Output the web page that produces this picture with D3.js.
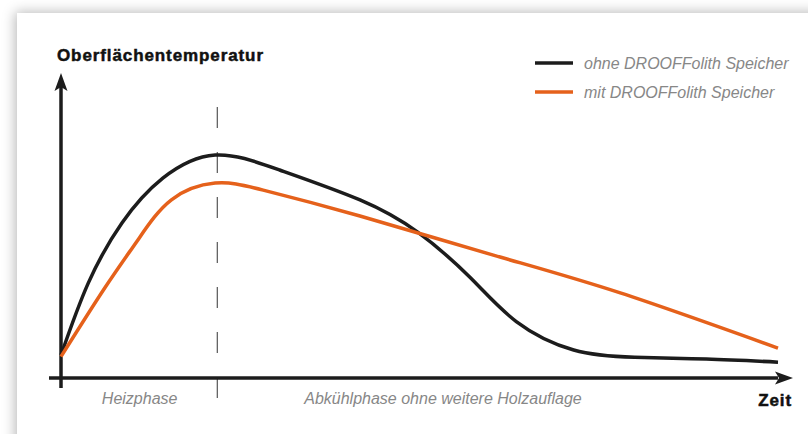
<!DOCTYPE html>
<html>
<head>
<meta charset="utf-8">
<script src="https://cdn.jsdelivr.net/npm/d3@7"></script>
<style>
  body { margin: 0; background: #fff; overflow: hidden; }
  #wrap { position: relative; width: 808px; height: 434px; overflow: hidden; }
  #card { position: absolute; left: 17px; top: 13px; width: 840px; height: 460px;
          background: #fff; box-shadow: -2px -1px 12px rgba(0,0,0,0.28); }
  svg { position: absolute; left: 0; top: 0; }
</style>
</head>
<body>
<div id="wrap"><div id="card"></div><div id="chart"></div></div>
<script>
// time (0 = start, 100 = end of the curves) and surface temperature (0..100 arbitrary units)
const timeOhne = [0, 3.8, 8.5, 14.2, 21.5, 30.5, 41.7, 49.7, 57.0, 63.5, 71.5, 80.0, 90.0, 100];
const tempOhne = [7.5, 31.1, 50.8, 65.5, 73.1, 68.2, 58.4, 47.9, 33.1, 18.5, 9.2, 6.8, 6.2, 5.2];

const timeMit = [0, 6.1, 10.7, 15.4, 21.5, 28.2, 41.7, 60.3, 78.0, 100];
const tempMit = [7.0, 29.5, 45.2, 58.4, 63.9, 61.6, 53.1, 40.3, 27.9, 9.8];

const heizEnde = 21.8;
const seriesNames = ["ohne DROOFFolith Speicher", "mit DROOFFolith Speicher"];
const seriesColors = ["#1c1c1c", "#e5611b"];
const phaseLabels = ["Heizphase", "Abkühlphase ohne weitere Holzauflage"];
const yTitle = "Oberflächentemperatur";
const xTitle = "Zeit";

const width = 808, height = 434;

const x = d3.scaleLinear().domain([0, 100]).range([61, 778]);
const y = d3.scaleLinear().domain([0, 100]).range([378, 73]);

const svg = d3.select('#chart').append('svg')
  .attr('width', width)
  .attr('height', height);

// dashed separator between the phases
svg.append('line')
  .attr('x1', x(heizEnde)).attr('x2', x(heizEnde))
  .attr('y1', 107).attr('y2', 400)
  .attr('stroke', '#555')
  .attr('stroke-width', 1.2)
  .attr('stroke-dasharray', '21 24');

// axes with arrow heads
const axisColor = '#1c1c1c';
svg.append('line')
  .attr('x1', 49).attr('x2', 778)
  .attr('y1', y(0)).attr('y2', y(0))
  .attr('stroke', axisColor).attr('stroke-width', 3.5);
svg.append('path')
  .attr('d', `M${775},${y(0) - 6.5} L${793},${y(0)} L${775},${y(0) + 6.5} L${779},${y(0)} Z`)
  .attr('fill', axisColor);

svg.append('line')
  .attr('x1', x(0)).attr('x2', x(0))
  .attr('y1', 388).attr('y2', 86)
  .attr('stroke', axisColor).attr('stroke-width', 3.5);
svg.append('path')
  .attr('d', `M${x(0) - 6.5},${91} L${x(0)},${73} L${x(0) + 6.5},${91} L${x(0)},${87} Z`)
  .attr('fill', axisColor);

// curves
const line = d3.line()
  .x(d => x(d[0]))
  .y(d => y(d[1]))
  .curve(d3.curveNatural);

const ohne = timeOhne.map((t, i) => [t, tempOhne[i]]);
const mit = timeMit.map((t, i) => [t, tempMit[i]]);

svg.append('path')
  .datum(ohne)
  .attr('d', line)
  .attr('fill', 'none')
  .attr('stroke', seriesColors[0])
  .attr('stroke-width', 3.5);

svg.append('path')
  .datum(mit)
  .attr('d', line)
  .attr('fill', 'none')
  .attr('stroke', seriesColors[1])
  .attr('stroke-width', 3.5);

// titles
svg.append('text')
  .attr('x', 57).attr('y', 60.5)
  .attr('font-family', 'Liberation Sans, Arial, sans-serif')
  .attr('font-weight', 'bold')
  .attr('font-size', 17)
  .attr('letter-spacing', 0.9)
  .attr('fill', '#111')
  .attr('stroke', '#111').attr('stroke-width', 0.5)
  .text(yTitle);

svg.append('text')
  .attr('x', 792).attr('y', 406)
  .attr('text-anchor', 'end')
  .attr('font-family', 'Liberation Sans, Arial, sans-serif')
  .attr('font-weight', 'bold')
  .attr('font-size', 17)
  .attr('letter-spacing', 0.9)
  .attr('fill', '#111')
  .attr('stroke', '#111').attr('stroke-width', 0.5)
  .text(xTitle);

// phase labels
const grey = '#878787';
svg.append('text')
  .attr('x', (x(0) + x(heizEnde)) / 2 + 0.5).attr('y', 404)
  .attr('text-anchor', 'middle')
  .attr('font-family', 'Liberation Sans, Arial, sans-serif')
  .attr('font-style', 'italic')
  .attr('font-size', 16)
  .attr('fill', grey)
  .text(phaseLabels[0]);

svg.append('text')
  .attr('x', 443).attr('y', 404)
  .attr('text-anchor', 'middle')
  .attr('font-family', 'Liberation Sans, Arial, sans-serif')
  .attr('font-style', 'italic')
  .attr('font-size', 16)
  .attr('fill', grey)
  .text(phaseLabels[1]);

// legend
const legend = svg.append('g').attr('transform', 'translate(535,63)');
seriesNames.forEach((name, i) => {
  const g = legend.append('g').attr('transform', `translate(0,${i * 29})`);
  g.append('line')
    .attr('x1', 0).attr('x2', 38)
    .attr('stroke', seriesColors[i])
    .attr('stroke-width', 3.5);
  g.append('text')
    .attr('x', 49).attr('y', 5.5)
    .attr('font-family', 'Liberation Sans, Arial, sans-serif')
    .attr('font-style', 'italic')
    .attr('font-size', 16)
    .attr('fill', grey)
    .text(name);
});
</script>
</body>
</html>
